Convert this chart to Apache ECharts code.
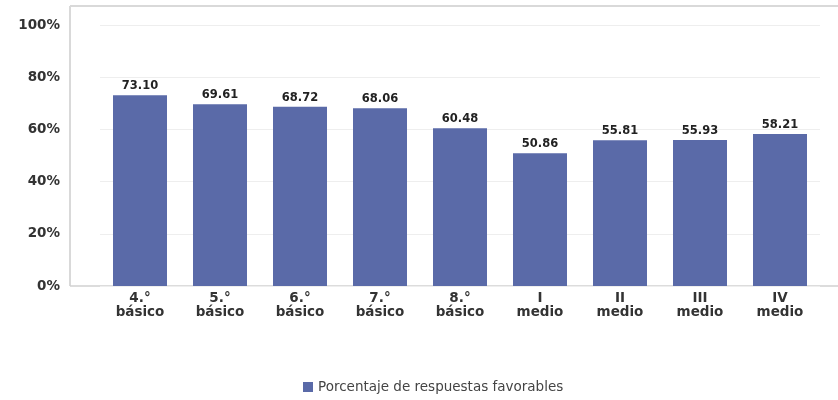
<!DOCTYPE html>
<html>
<head>
<meta charset="utf-8">
<script src="https://cdn.jsdelivr.net/npm/echarts@6/dist/echarts.min.js"></script>
<style>html,body{margin:0;padding:0;background:#fff}#c{width:838px;height:400px}</style>
</head>
<body>
<div id="c"></div>
<script>
const categories = ["4.°\nbásico","5.°\nbásico","6.°\nbásico","7.°\nbásico","8.°\nbásico","I\nmedio","II\nmedio","III\nmedio","IV\nmedio"];
const values = [73.10, 69.61, 68.72, 68.06, 60.48, 50.86, 55.81, 55.93, 58.21];
const seriesName = "Porcentaje de respuestas favorables";
const yTicks = [0, 20, 40, 60, 80, 100];

const chart = echarts.init(document.getElementById('c'), null, {renderer: 'canvas'});
chart.setOption({
  animation: false,
  backgroundColor: '#fff',
  textStyle: {fontFamily: 'DejaVu Sans'},
  grid: {left: 100, right: 18, top: 25, bottom: 114},
  graphic: [
    {type: 'line', shape: {x1: 70, y1: 6, x2: 70, y2: 286}, style: {stroke: '#d9d9d9', lineWidth: 2}, z: 0},
    {type: 'line', shape: {x1: 70, y1: 6, x2: 838, y2: 6}, style: {stroke: '#d9d9d9', lineWidth: 2}, z: 0},
    {type: 'line', shape: {x1: 70, y1: 286, x2: 838, y2: 286}, style: {stroke: '#d0d0d0', lineWidth: 1.5}, z: 0}
  ],
  legend: {
    bottom: 1, left: 298,
    itemWidth: 10, itemHeight: 10, icon: 'rect', itemGap: 5,
    textStyle: {fontSize: 13.5, color: '#444', fontFamily: 'DejaVu Sans'},
    data: [seriesName]
  },
  xAxis: {
    type: 'category', data: categories,
    axisLine: {show: false}, axisTick: {show: false},
    axisLabel: {fontSize: 13.5, fontWeight: 'bold', color: '#333', lineHeight: 14, margin: 5, interval: 0}
  },
  yAxis: {
    type: 'value', min: yTicks[0], max: yTicks[yTicks.length-1], interval: 20,
    axisLine: {show: false}, axisTick: {show: false},
    splitLine: {lineStyle: {color: '#eeeeee', width: 1}},
    axisLabel: {formatter: v => v + '%', fontSize: 13.5, fontWeight: 'bold', color: '#333', margin: 40}
  },
  series: [{
    name: seriesName, type: 'bar', data: values, barWidth: 54,
    itemStyle: {color: '#5a6aa8'},
    label: {show: true, position: 'top', formatter: p => p.value.toFixed(2), fontSize: 11.5, fontWeight: 'bold', color: '#222', distance: 3}
  }]
});
</script>
</body>
</html>
